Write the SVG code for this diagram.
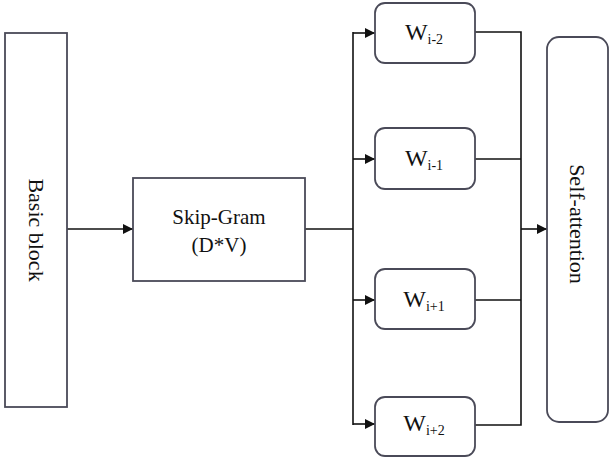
<svg xmlns="http://www.w3.org/2000/svg" width="610" height="461" viewBox="0 0 610 461">
<defs>
<style>
.box{fill:#fff;stroke:#4a4a58;stroke-width:1.8}
.ln{fill:none;stroke:#111;stroke-width:1.6}
.t{font-family:"Liberation Serif","Times New Roman",serif;fill:#111}
.w{font-size:24px}
.s{font-size:14px}
</style>
<marker id="ah" viewBox="0 0 10 10" refX="10" refY="5" markerWidth="11" markerHeight="10" markerUnits="userSpaceOnUse" orient="auto">
<path d="M0,0 L10,5 L0,10 z" fill="#111"/>
</marker>
</defs>
<rect width="610" height="461" fill="#fff"/>
<g id="connectors">
<line class="ln" x1="67" y1="229" x2="133" y2="229" marker-end="url(#ah)"/>
<line class="ln" x1="305" y1="229" x2="353" y2="229"/>
<line class="ln" x1="353" y1="32" x2="353" y2="425"/>
<line class="ln" x1="353" y1="33" x2="375" y2="33" marker-end="url(#ah)"/>
<line class="ln" x1="353" y1="159" x2="375" y2="159" marker-end="url(#ah)"/>
<line class="ln" x1="353" y1="300" x2="375" y2="300" marker-end="url(#ah)"/>
<line class="ln" x1="353" y1="424" x2="375" y2="424" marker-end="url(#ah)"/>
<polyline class="ln" points="475,32 521,32 521,425 475,425"/>
<line class="ln" x1="475" y1="159" x2="521" y2="159"/>
<line class="ln" x1="475" y1="300" x2="521" y2="300"/>
<line class="ln" x1="521" y1="229" x2="547" y2="229" marker-end="url(#ah)"/>
</g>
<g id="basic-block">
<rect class="box" x="5" y="33" width="62" height="374"/>
<text class="t" x="36" y="230" font-size="22" text-anchor="middle" dominant-baseline="central" transform="rotate(90 36 230)">Basic block</text>
</g>
<g id="skip-gram">
<rect class="box" x="133" y="178" width="172" height="103"/>
<text class="t" x="219" y="224" font-size="21" text-anchor="middle">Skip-Gram</text>
<text class="t" x="219" y="252" font-size="21" text-anchor="middle">(D*V)</text>
</g>
<g id="w-i-2">
<rect class="box" x="375" y="3" width="100" height="60" rx="10"/>
<text class="t" x="424" y="40" text-anchor="middle"><tspan class="w">W</tspan><tspan class="s" dy="4">i-2</tspan></text>
</g>
<g id="w-i-1">
<rect class="box" x="375" y="128" width="100" height="61" rx="10"/>
<text class="t" x="424" y="166" text-anchor="middle"><tspan class="w">W</tspan><tspan class="s" dy="4">i-1</tspan></text>
</g>
<g id="w-i+1">
<rect class="box" x="375" y="269" width="100" height="60" rx="10"/>
<text class="t" x="424" y="307" text-anchor="middle"><tspan class="w">W</tspan><tspan class="s" dy="4">i+1</tspan></text>
</g>
<g id="w-i+2">
<rect class="box" x="375" y="397" width="100" height="59" rx="10"/>
<text class="t" x="424" y="431" text-anchor="middle"><tspan class="w">W</tspan><tspan class="s" dy="4">i+2</tspan></text>
</g>
<g id="self-attention">
<rect class="box" x="547" y="37" width="61" height="385" rx="12"/>
<text class="t" x="577" y="224" font-size="22" text-anchor="middle" dominant-baseline="central" transform="rotate(90 577 224)">Self-attention</text>
</g>
</svg>
